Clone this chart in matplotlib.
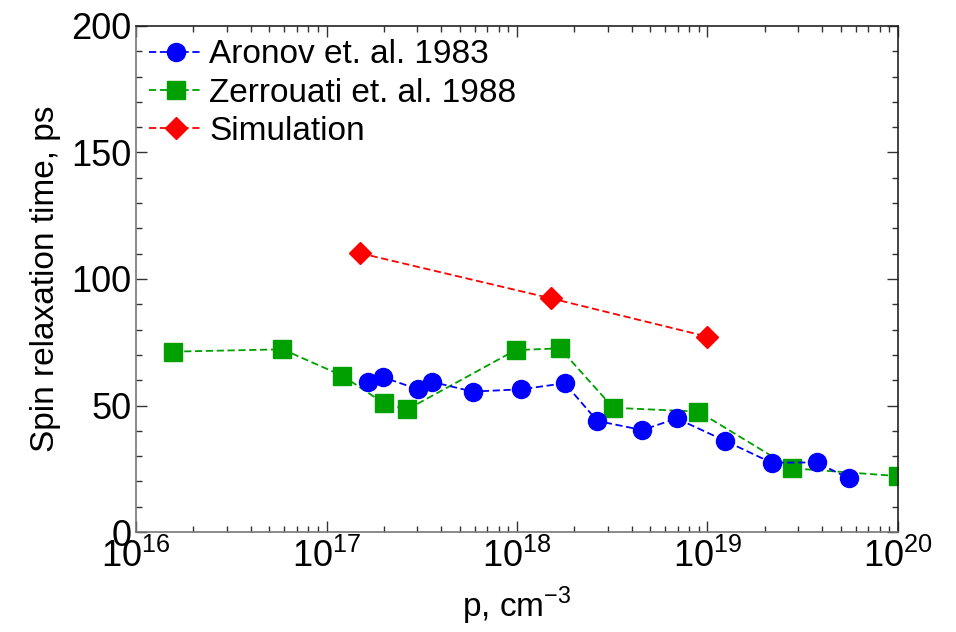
import matplotlib
matplotlib.use("Agg")
import matplotlib.pyplot as plt
from matplotlib.ticker import LogLocator, MultipleLocator, NullFormatter, FixedLocator

plt.rcParams['font.family'] = ['Liberation Sans', 'DejaVu Sans']
plt.rcParams['mathtext.fontset'] = 'custom'
plt.rcParams['mathtext.rm'] = 'Liberation Sans'

aronov_x = [1.66e17, 1.99e17, 3.03e17, 3.56e17, 5.85e17, 1.05e18, 1.78e18,
            2.64e18, 4.55e18, 6.89e18, 1.24e19, 2.17e19, 3.74e19, 5.53e19]
aronov_y = [59.4, 61.1, 56.4, 59.4, 55.5, 56.4, 58.8,
            43.9, 40.3, 44.9, 36.0, 27.4, 27.5, 21.2]

zerr_x = [1.57e16, 5.87e16, 1.21e17, 2.0e17, 2.66e17, 9.84e17, 1.68e18,
          3.2e18, 8.96e18, 2.77e19, 1.0e20]
zerr_y = [71.3, 72.2, 61.8, 50.9, 48.5, 71.9, 72.6,
          49.1, 47.6, 25.2, 22.1]

sim_x = [1.5e17, 1.5e18, 1.0e19]
sim_y = [110.2, 92.4, 77.2]

labels = ["Aronov et. al. 1983", "Zerrouati et. al. 1988", "Simulation"]
xtick_vals = [1e16, 1e17, 1e18, 1e19, 1e20]
xtick_labels = [r'$10^{16}$', r'$10^{17}$', r'$10^{18}$', r'$10^{19}$', r'$10^{20}$']

fig = plt.figure(figsize=(9.56, 6.32), dpi=100)
ax = fig.add_axes([0.1423, 0.1582, 0.7970, 0.8007])

dash = (4, 2)
ax.plot(aronov_x, aronov_y, color='#0000ff', ls='--', dashes=dash, lw=1.3,
        marker='o', ms=13, mec='#0000ff', label=labels[0], zorder=3)
ax.plot(zerr_x, zerr_y, color='#00a000', ls='--', dashes=dash, lw=1.3,
        marker='s', ms=12.5, mec='#00a000', label=labels[1], zorder=2)
ax.plot(sim_x, sim_y, color='#ff0000', ls='--', dashes=dash, lw=1.3,
        marker='D', ms=11, mec='#ff0000', label=labels[2], zorder=3)

ax.set_xscale('log')
ax.set_xlim(1e16, 1e20)
ax.set_ylim(0, 200)

ax.xaxis.set_major_locator(FixedLocator(xtick_vals))
ax.xaxis.set_minor_locator(LogLocator(base=10, subs=range(2, 10), numticks=20))
ax.xaxis.set_minor_formatter(NullFormatter())
ax.set_xticklabels(xtick_labels)
ax.yaxis.set_major_locator(MultipleLocator(50))
ax.yaxis.set_minor_locator(MultipleLocator(10))

ax.tick_params(which='both', direction='in', top=True, right=True,
               labelsize=26, colors='#333333', labelcolor='black')
ax.tick_params(which='major', length=8, width=1)
ax.tick_params(which='minor', length=4, width=1)
ax.tick_params(axis='y', pad=3)
ax.tick_params(axis='x', pad=5)

for side in ['left', 'bottom']:
    ax.spines[side].set_color('#777777')
for side in ['top', 'right']:
    ax.spines[side].set_color('#222222')
for s in ax.spines.values():
    s.set_linewidth(1.2)

ax.set_ylabel("Spin relaxation time, ps", fontsize=24, labelpad=8)
ax.set_xlabel(r"p, cm$^{-3}$", fontsize=24, labelpad=7)

leg = ax.legend(loc='upper left', frameon=False, fontsize=24,
                handlelength=1.6, handletextpad=0.2, labelspacing=0.22,
                borderaxespad=0.1, borderpad=0.3)

fig.savefig("out.png", dpi=100)
